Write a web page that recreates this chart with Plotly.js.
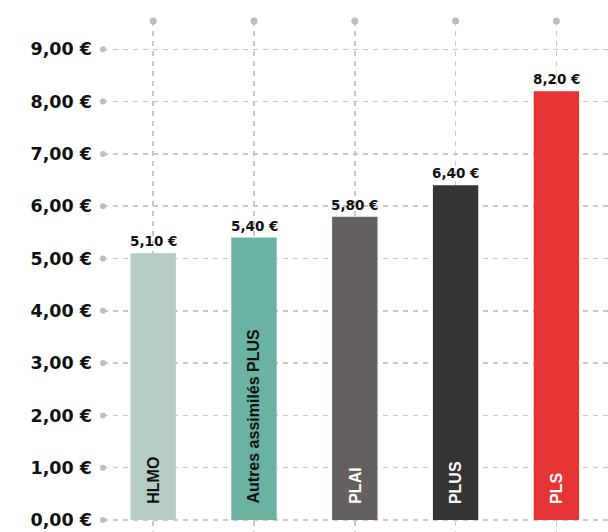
<!DOCTYPE html>
<html>
<head>
<meta charset="utf-8">
<script src="https://cdn.plot.ly/plotly-3.0.1.min.js"></script>
<style>html,body{margin:0;padding:0;background:#fff;}#chart{width:608px;height:532px;}</style>
</head>
<body>
<div id="chart"></div>
<script>
const categories = ["HLMO", "Autres assimilés PLUS", "PLAI", "PLUS", "PLS"];
const values = [5.10, 5.40, 5.80, 6.40, 8.20];
const valueLabels = ["5,10 €", "5,40 €", "5,80 €", "6,40 €", "8,20 €"];
const barColors = ["#b6cdc5", "#6ab3a3", "#65605f", "#363432", "#e63333"];
const nameColors = ["#111111", "#111111", "#ffffff", "#ffffff", "#ffffff"];
const tickVals = [0, 1, 2, 3, 4, 5, 6, 7, 8, 9];
const tickText = ["0,00 €", "1,00 €", "2,00 €", "3,00 €", "4,00 €", "5,00 €", "6,00 €", "7,00 €", "8,00 €", "9,00 €"];

const numFont = "DejaVu Sans, sans-serif";
const nameFont = "Liberation Sans, Arial, sans-serif";
const gridColor = "#c8c8c8";
const dotColor = "#bdbdbd";
const yRange = [-0.229, 9.541];
const xRange = [-0.498, 4.512];

const bars = {
  type: "bar",
  x: categories,
  y: values,
  width: 0.45,
  marker: {color: barColors, line: {width: 0}},
  hoverinfo: "skip"
};

const annotations = [];
categories.forEach((c, i) => {
  annotations.push({
    x: c, y: values[i], xref: "x", yref: "y",
    text: valueLabels[i], showarrow: false,
    xanchor: "center", yanchor: "bottom", yshift: 2,
    font: {family: numFont, size: 13.5, color: "#111", weight: 700}
  });
  annotations.push({
    x: c, y: 0, xref: "x", yref: "y",
    text: c, showarrow: false, textangle: -90,
    xanchor: "center", yanchor: "bottom", yshift: 14,
    font: {family: nameFont, size: 16, color: nameColors[i], weight: 700}
  });
});

const shapes = [];
tickVals.forEach(v => {
  shapes.push({
    type: "circle", xref: "paper", yref: "y",
    xsizemode: "pixel", ysizemode: "pixel",
    xanchor: 0, yanchor: v, x0: -3, x1: 3, y0: -3, y1: 3,
    fillcolor: dotColor, line: {width: 0}, layer: "above"
  });
});
categories.forEach((c, i) => {
  shapes.push({
    type: "circle", xref: "x", yref: "paper",
    xsizemode: "pixel", ysizemode: "pixel",
    xanchor: i, yanchor: 1, x0: -3.5, x1: 3.5, y0: -3.5, y1: 3.5,
    fillcolor: dotColor, line: {width: 0}, layer: "above"
  });
});

const layout = {
  width: 608, height: 532,
  margin: {l: 103, r: 0, t: 21, b: 0, pad: 0},
  paper_bgcolor: "#ffffff", plot_bgcolor: "#ffffff",
  showlegend: false,
  xaxis: {
    type: "category", range: xRange,
    showgrid: true, gridcolor: gridColor, gridwidth: 1.5, griddash: "5px,5px",
    showticklabels: false, ticks: "", zeroline: false, showline: false, fixedrange: true
  },
  yaxis: {
    range: yRange, tickvals: tickVals, ticktext: tickText,
    showgrid: true, gridcolor: gridColor, gridwidth: 1.5, griddash: "5px,5px",
    zeroline: false, showline: false, ticks: "", ticklabelstandoff: 10,
    tickfont: {family: numFont, size: 17.5, color: "#111", weight: 700},
    fixedrange: true
  },
  annotations: annotations,
  shapes: shapes
};

Plotly.newPlot("chart", [bars], layout, {displayModeBar: false, staticPlot: true});
</script>
</body>
</html>
